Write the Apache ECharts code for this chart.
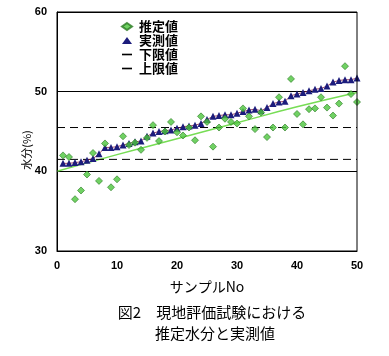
<!DOCTYPE html>
<html><head><meta charset="utf-8">
<script src="https://cdn.jsdelivr.net/npm/echarts@6/dist/echarts.min.js"></script>
<style>html,body{margin:0;padding:0;background:#fff}#c{width:389px;height:356px}</style>
</head><body><div id="c"></div>
<script>
const sampleNo = [1,2,3,4,5,6,7,8,9,10,11,12,13,14,15,16,17,18,19,20,21,22,23,24,25,26,27,28,29,30,31,32,33,34,35,36,37,38,39,40,41,42,43,44,45,46,47,48,49,50];
const estimated = [42.0,41.8,36.5,37.6,39.6,42.3,38.8,43.5,38.0,39.0,44.4,43.3,43.6,42.7,44.2,45.8,43.8,45.0,46.2,44.9,44.5,45.5,43.9,46.9,46.2,43.1,45.5,46.6,46.2,46.0,47.9,46.9,45.3,47.4,44.3,45.5,49.3,45.5,51.6,47.2,45.9,47.8,47.9,49.3,48.0,47.0,48.5,53.2,49.7,48.7];
const measured = [41.0,41.0,41.1,41.2,41.4,41.6,42.2,43.0,43.0,43.1,43.3,43.5,43.7,43.8,44.4,44.8,45.0,45.1,45.2,45.4,45.6,45.7,45.8,46.0,46.5,46.9,47.0,47.1,47.1,47.3,47.5,47.7,47.8,47.6,48.0,48.5,48.7,48.8,49.5,49.7,49.9,50.1,50.3,50.4,50.7,51.2,51.4,51.5,51.5,51.7];
const trendX = [0,10,20,30,40,50];
const trendY = [40.0,42.1,44.1,46.1,48.1,49.9];
const limitX = [0,50];
const lowerLimit = [41.5,41.5];
const upperLimit = [45.5,45.5];
const xTicks = [0,10,20,30,40,50];
const yTicks = [30,40,50,60];
const seriesNames = ['推定値','実測値','下限値','上限値'];
const xName = 'サンプルNo';
const yName = '水分(%)';
const caption1 = '図2　現地評価試験における';
const caption2 = '推定水分と実測値';

const chart = echarts.init(document.getElementById('c'));
const zip = (xs, ys) => xs.map((x,i)=>[x, ys[i]]);
const cjk = '"Noto Sans CJK JP", sans-serif';
const dashIcon = 'path://M0,0 L8,0 L8,1.3 L0,1.3 Z';
chart.setOption({
  animation:false,
  grid:{left:57,right:32,top:12,bottom:105},
  legend:{
    orient:'vertical', left:116, top:15, itemWidth:10, itemHeight:7, itemGap:1,
    symbolKeepAspect:true,
    textStyle:{fontFamily:cjk,fontSize:13,fontWeight:'bold',color:'#000',padding:[0,0,0,2]},
    data:[
      {name:seriesNames[0],icon:'diamond'},
      {name:seriesNames[1],icon:'triangle'},
      {name:seriesNames[2],icon:dashIcon,itemStyle:{color:'#000'}},
      {name:seriesNames[3],icon:dashIcon,itemStyle:{color:'#000'}}
    ]
  },
  xAxis:{
    type:'value',min:xTicks[0],max:xTicks[xTicks.length-1],interval:10,
    name:xName,nameLocation:'middle',nameGap:29,
    nameTextStyle:{fontFamily:cjk,fontSize:14,color:'#000'},
    axisLine:{show:true,lineStyle:{color:'#000',width:1}},
    axisTick:{show:false},
    axisLabel:{margin:9,fontFamily:'"Liberation Sans", Arial, sans-serif',fontWeight:'bold',fontSize:11,color:'#000'},
    splitLine:{show:false}
  },
  yAxis:{
    type:'value',min:yTicks[0],max:yTicks[yTicks.length-1],interval:10,
    axisLine:{show:true,lineStyle:{color:'#000',width:1}},
    axisTick:{show:false},
    axisLabel:{margin:10,fontFamily:'"Liberation Sans", Arial, sans-serif',fontWeight:'bold',fontSize:11,color:'#000'},
    splitLine:{show:true,lineStyle:{color:'#000',width:1}}
  },
  graphic:[
    {type:'rect',shape:{x:57,y:12,width:300,height:239},style:{fill:'none',stroke:'#000',lineWidth:1},z:100,silent:true},
    {type:'text',x:27,y:150,rotation:Math.PI/2,style:{text:yName,fontFamily:cjk,fontSize:11,fill:'#000',align:'center',verticalAlign:'middle'}},
    {type:'text',x:212,y:312,style:{text:caption1,fontFamily:cjk,fontSize:15,fill:'#000',align:'center',verticalAlign:'middle'}},
    {type:'text',x:215,y:333,style:{text:caption2,fontFamily:cjk,fontSize:15,fill:'#000',align:'center',verticalAlign:'middle'}}
  ],
  series:[
    {name:'trend',type:'line',data:zip(trendX,trendY),symbol:'none',smooth:true,
     lineStyle:{color:'#77dd55',width:1.5},z:1,silent:true},
    {name:seriesNames[2],type:'line',data:zip(limitX,lowerLimit),symbol:'none',
     lineStyle:{color:'#000',width:1,type:[8,5]},itemStyle:{color:'#000'},z:1},
    {name:seriesNames[3],type:'line',data:zip(limitX,upperLimit),symbol:'none',
     lineStyle:{color:'#000',width:1,type:[8,5]},itemStyle:{color:'#000'},z:1},
    {name:seriesNames[1],type:'line',data:zip(sampleNo,measured),symbol:'triangle',symbolSize:7,
     lineStyle:{color:'#8a2040',width:0.8},itemStyle:{color:'#1c1c7c'},z:3},
    {name:seriesNames[0],type:'scatter',data:zip(sampleNo,estimated),symbol:'diamond',symbolSize:7,
     itemStyle:{color:'#4cc63c',borderColor:'#2a7a22',borderWidth:0.8},z:4}
  ]
});
</script></body></html>
